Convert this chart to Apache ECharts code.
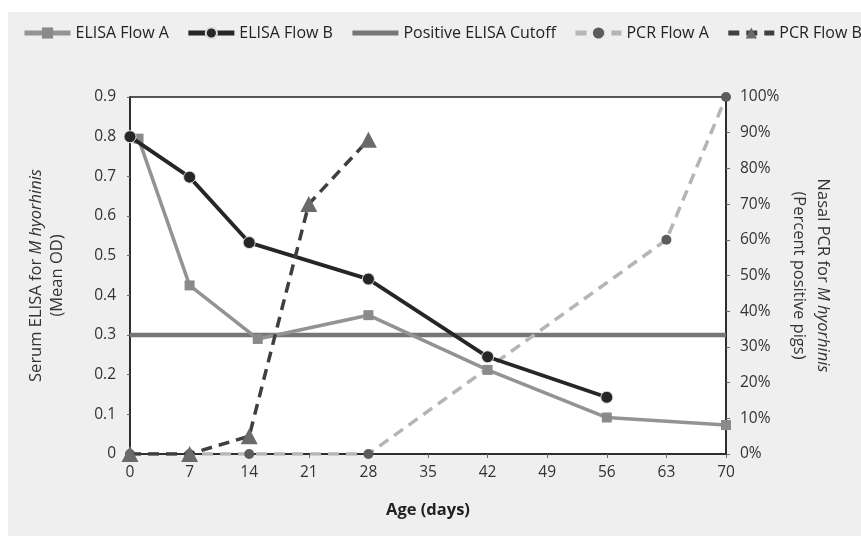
<!DOCTYPE html>
<html>
<head>
<meta charset="utf-8">
<script src="https://cdn.jsdelivr.net/npm/echarts@6/dist/echarts.min.js"></script>
<style>
  html, body { margin: 0; padding: 0; background: #fff; }
  #bg { position: absolute; left: 8px; top: 12px; width: 853px; height: 524px; background: #efefef; }
  #chart { position: absolute; left: 0; top: 0; width: 861px; height: 536px; }
</style>
</head>
<body>
<div id="bg"></div>
<div id="chart"></div>
<script>
// 血清ELISA（左轴，平均OD）
const elisaADays = [1, 7, 15, 28, 42, 56, 70];
const elisaA = [0.795, 0.425, 0.29, 0.35, 0.212, 0.092, 0.073];
const elisaBDays = [0, 7, 14, 28, 42, 56];
const elisaB = [0.8, 0.698, 0.533, 0.441, 0.245, 0.143];
const cutoffDays = [0, 70];
const cutoff = [0.3, 0.3];
// 鼻腔PCR（右轴，阳性百分比）
const pcrADays = [0, 7, 14, 28, 63, 70];
const pcrA = [0, 0, 0, 0, 60, 100];
const pcrBDays = [0, 7, 14, 21, 28];
const pcrB = [0, 0, 5, 70, 88];

const pairs = (xs, ys) => xs.map((x, i) => [x, ys[i]]);
const font = "'Open Sans', sans-serif";

const chart = echarts.init(document.getElementById("chart"));
const nameRich = (lh) => ({
  n: { fontSize: 16.5, color: "#333", fontFamily: font, lineHeight: lh },
  i: { fontSize: 16.5, color: "#333", fontFamily: font, fontStyle: "italic", lineHeight: lh },
});
const option = {
  backgroundColor: "transparent",
  textStyle: { fontFamily: font },
  legend: {
    left: 22,
    top: 25,
    padding: 0,
    width: 1200,
    itemWidth: 46,
    itemHeight: 14,
    itemGap: 17,
    lineStyle: { width: 5 },
    textStyle: { fontSize: 16, color: "#222", fontFamily: font },
    data: [
      "ELISA Flow A",
      "ELISA Flow B",
      // 阈值线图例不显示标记点
      { name: "Positive ELISA Cutoff", itemStyle: { color: "rgba(0,0,0,0)" } },
      "PCR Flow A",
      "PCR Flow B",
    ],
  },
  grid: {
    left: 130,
    right: 135,
    top: 97,
    bottom: 82,
    show: true,
    backgroundColor: "#fff",
    borderColor: "#222",
    borderWidth: 1.5,
  },
  xAxis: {
    type: "value",
    min: 0,
    max: 70,
    interval: 7,
    name: "Age (days)",
    nameLocation: "middle",
    nameGap: 48,
    nameTextStyle: { fontSize: 16.5, fontWeight: "bold", color: "#222" },
    axisLine: { lineStyle: { color: "#222", width: 1.5 } },
    axisTick: { length: 4, lineStyle: { color: "#666" } },
    axisLabel: { fontSize: 15.5, color: "#333", margin: 11 },
    splitLine: { show: false },
  },
  yAxis: [
    {
      type: "value",
      min: 0,
      max: 0.9,
      interval: 0.1,
      position: "left",
      name: "{n|Serum ELISA for }{i|M hyorhinis}\n{n|(Mean OD)}",
      nameLocation: "middle",
      nameGap: 62,
      nameTextStyle: { rich: nameRich(21) },
      axisLine: { show: true, lineStyle: { color: "#222", width: 1.5 } },
      axisTick: { show: true, length: 3, lineStyle: { color: "#666" } },
      axisLabel: {
        fontSize: 15.5,
        color: "#333",
        margin: 14,
        formatter: (v) => (v === 0 ? "0" : v.toFixed(1)),
      },
      splitLine: { show: false },
    },
    {
      type: "value",
      min: 0,
      max: 100,
      interval: 10,
      position: "right",
      name: "{n|Nasal PCR for }{i|M hyorhinis}\n{n|(Percent positive pigs)}",
      nameLocation: "middle",
      nameRotate: -90,
      nameGap: 60,
      nameTextStyle: { rich: nameRich(24) },
      axisLine: { show: true, lineStyle: { color: "#222", width: 1.5 } },
      axisTick: { show: true, length: 4, lineStyle: { color: "#666" } },
      axisLabel: { fontSize: 15.5, color: "#333", margin: 14, formatter: "{value}%" },
      splitLine: { show: false },
    },
  ],
  series: [
    {
      name: "ELISA Flow A",
      type: "line",
      data: pairs(elisaADays, elisaA),
      symbol: "rect",
      symbolSize: 10,
      itemStyle: { color: "#8a8a8a" },
      lineStyle: { color: "#939393", width: 3.5 },
      z: 3,
    },
    {
      name: "ELISA Flow B",
      type: "line",
      data: pairs(elisaBDays, elisaB),
      symbol: "circle",
      symbolSize: 12,
      itemStyle: { color: "#262626", borderColor: "#ddd", borderWidth: 1 },
      lineStyle: { color: "#262626", width: 3.8 },
      z: 4,
    },
    {
      name: "Positive ELISA Cutoff",
      type: "line",
      data: pairs(cutoffDays, cutoff),
      symbol: "none",
      itemStyle: { color: "#777" },
      lineStyle: { color: "#767676", width: 4.5 },
      z: 2,
    },
    {
      name: "PCR Flow A",
      type: "line",
      yAxisIndex: 1,
      data: pairs(pcrADays, pcrA),
      symbol: "circle",
      symbolSize: 10,
      itemStyle: { color: "#5c5c5c" },
      lineStyle: { color: "#b5b5b5", width: 3.5, type: [11, 7] },
      z: 2,
    },
    {
      name: "PCR Flow B",
      type: "line",
      yAxisIndex: 1,
      data: pairs(pcrBDays, pcrB),
      symbol: "triangle",
      symbolSize: [17, 16],
      itemStyle: { color: "#6a6a6a" },
      lineStyle: { color: "#3f3f3f", width: 3.5, type: [11, 7] },
      z: 5,
    },
  ],
};
chart.setOption(option);
</script>
</body>
</html>
